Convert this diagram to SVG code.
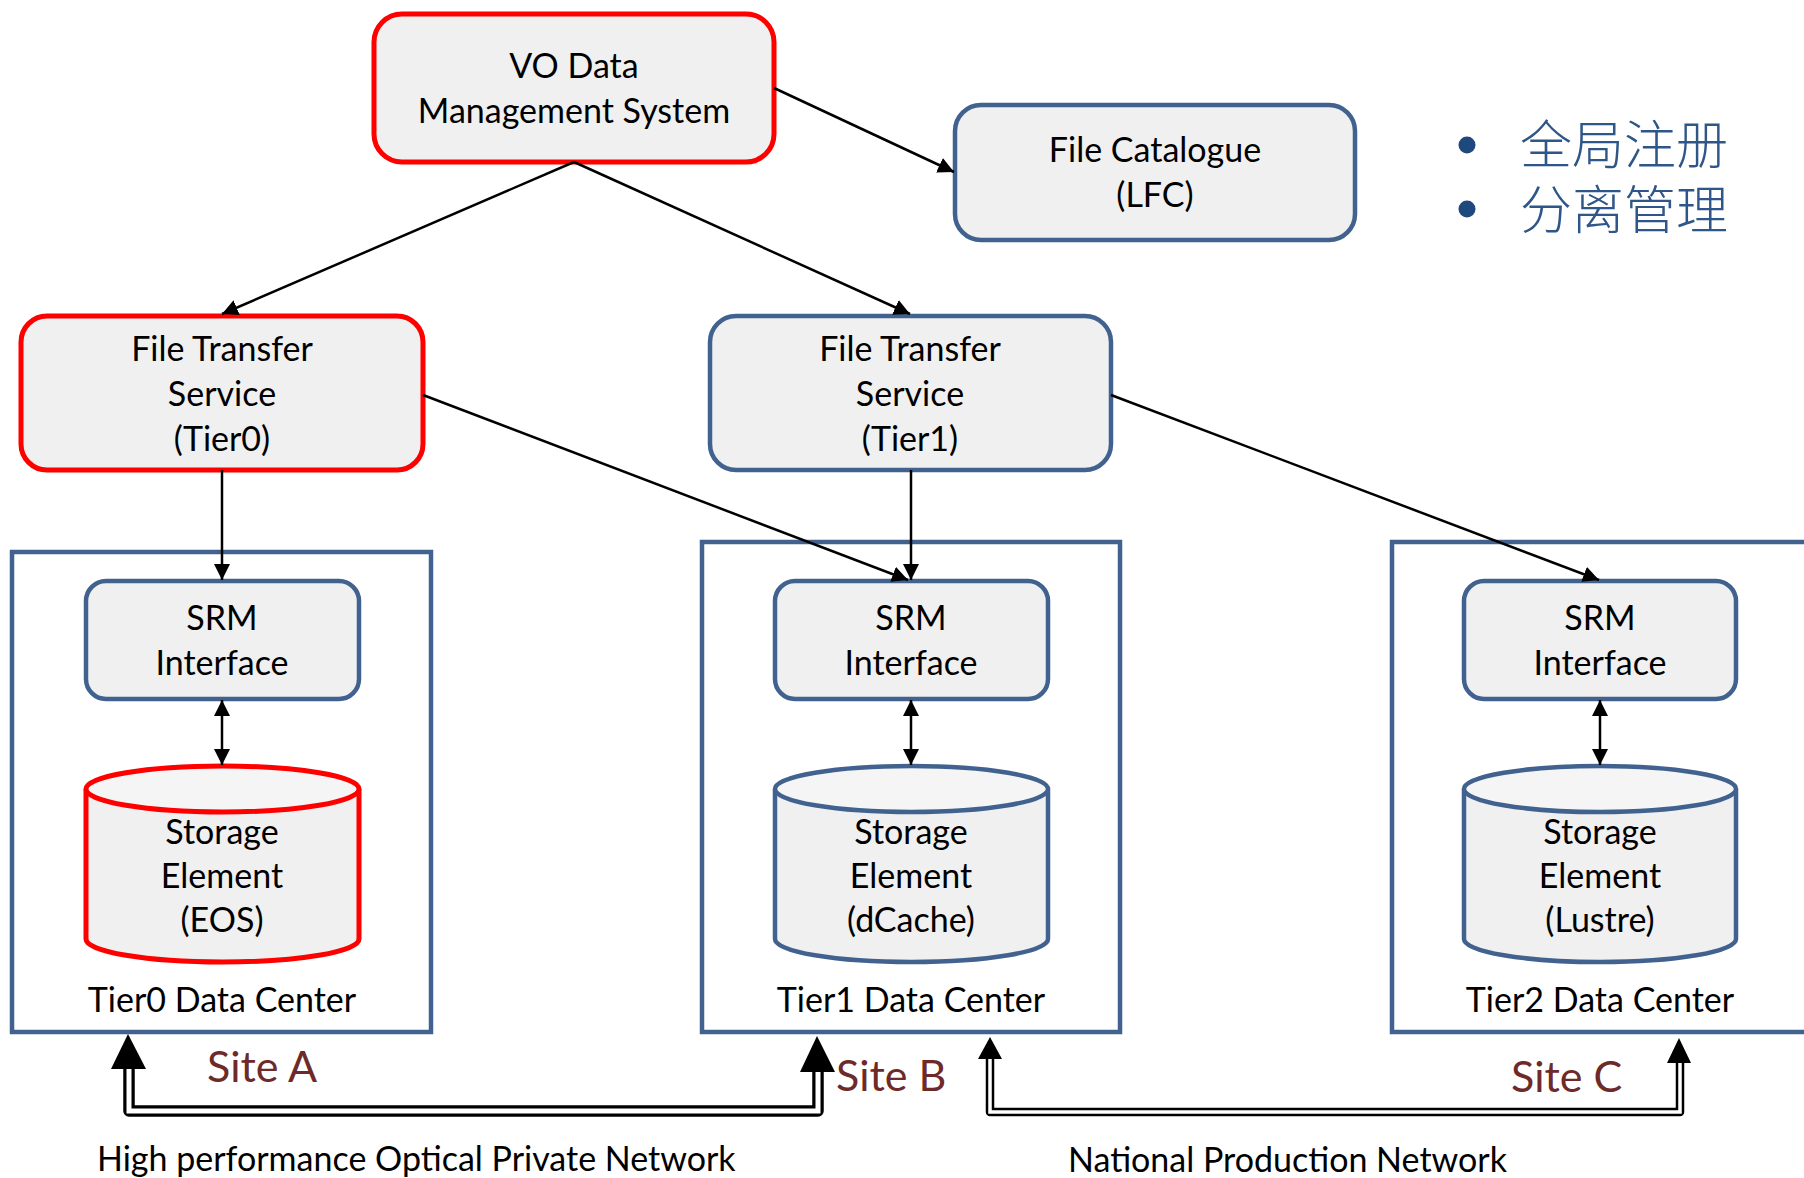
<svg xmlns="http://www.w3.org/2000/svg" width="1804" height="1178" viewBox="0 0 1804 1178">
<style>
.box{fill:#F0F0F0;stroke-width:4.5}
.red{stroke:#FF0000;stroke-width:5}
.blue{stroke:#41628F}
.dc{fill:none;stroke:#41628F;stroke-width:4.5}
.t{font-family:Lato,"Liberation Sans",sans-serif;font-size:34px;fill:#000;text-anchor:middle}
.site{font-family:Lato,"Liberation Sans",sans-serif;font-size:43px;fill:#6E2A28}
.net{font-family:Lato,"Liberation Sans",sans-serif;font-size:34px;fill:#000}
.cjk{font-family:"Noto Sans CJK SC",sans-serif;font-size:52px;font-weight:300;fill:#2F5689}
.conn{stroke:#000;stroke-width:2.5;fill:none}
</style>
<defs>
<marker id="ah" markerUnits="userSpaceOnUse" markerWidth="18" markerHeight="16" refX="16" refY="8" orient="auto-start-reverse" viewBox="0 0 18 16">
<path d="M0,0 L16,8 L0,16 Z" fill="#000"/>
</marker>
</defs>
<rect width="1804" height="1178" fill="#fff"/>

<g id="dc-tier0"><rect class="dc" x="12" y="552" width="419" height="480"/><text class="t" x="222" y="1012">Tier0 Data Center</text></g>
<g id="dc-tier1"><rect class="dc" x="702" y="542" width="418" height="490"/><text class="t" x="911" y="1012">Tier1 Data Center</text></g>
<g id="dc-tier2"><rect class="dc" x="1392" y="542" width="420" height="490"/><text class="t" x="1600" y="1012">Tier2 Data Center</text></g>

<g id="vo"><rect class="box red" x="374" y="14" width="400" height="148" rx="28"/><text class="t" x="574" y="78">VO Data</text><text class="t" x="574" y="123">Management System</text></g>
<g id="fc"><rect class="box blue" x="955" y="105" width="400" height="135" rx="26"/><text class="t" x="1155" y="162">File Catalogue</text><text class="t" x="1155" y="207">(LFC)</text></g>
<g id="fts0"><rect class="box red" x="21" y="316" width="402" height="154" rx="26"/><text class="t" x="222" y="361">File Transfer</text><text class="t" x="222" y="406">Service</text><text class="t" x="222" y="451">(Tier0)</text></g>
<g id="fts1"><rect class="box blue" x="710" y="316" width="401" height="154" rx="26"/><text class="t" x="910" y="361">File Transfer</text><text class="t" x="910" y="406">Service</text><text class="t" x="910" y="451">(Tier1)</text></g>

<g id="srm0"><rect class="box blue" x="86" y="581" width="273" height="118" rx="20"/><text class="t" x="222" y="630">SRM</text><text class="t" x="222" y="675">Interface</text></g>
<g id="srm1"><rect class="box blue" x="775" y="581" width="273" height="118" rx="20"/><text class="t" x="911" y="630">SRM</text><text class="t" x="911" y="675">Interface</text></g>
<g id="srm2"><rect class="box blue" x="1464" y="581" width="272" height="118" rx="20"/><text class="t" x="1600" y="630">SRM</text><text class="t" x="1600" y="675">Interface</text></g>

<g id="se0"><path class="box red" d="M86,789 L86,939 A136.5,23 0 0 0 359,939 L359,789"/><ellipse class="red" cx="222.5" cy="789" rx="136.5" ry="23" fill="#F5F5F5" stroke-width="5"/><text class="t" x="222" y="844">Storage</text><text class="t" x="222" y="888">Element</text><text class="t" x="222" y="932">(EOS)</text></g>
<g id="se1"><path class="box blue" d="M775,789 L775,939 A136.5,23 0 0 0 1048,939 L1048,789"/><ellipse class="blue" cx="911.5" cy="789" rx="136.5" ry="23" fill="#F5F5F5" stroke-width="4.5"/><text class="t" x="911" y="844">Storage</text><text class="t" x="911" y="888">Element</text><text class="t" x="911" y="932">(dCache)</text></g>
<g id="se2"><path class="box blue" d="M1464,789 L1464,939 A136,23 0 0 0 1736,939 L1736,789"/><ellipse class="blue" cx="1600" cy="789" rx="136" ry="23" fill="#F5F5F5" stroke-width="4.5"/><text class="t" x="1600" y="844">Storage</text><text class="t" x="1600" y="888">Element</text><text class="t" x="1600" y="932">(Lustre)</text></g>

<g id="bullets">
<circle cx="1467" cy="145" r="8.5" fill="#1F497D"/><text class="cjk" x="1520" y="164">全局注册</text>
<circle cx="1467" cy="209" r="8.5" fill="#1F497D"/><text class="cjk" x="1520" y="229">分离管理</text>
</g>

<g id="connectors">
<line class="conn" x1="774" y1="88" x2="954" y2="172" marker-end="url(#ah)"/>
<line class="conn" x1="574" y1="162" x2="222" y2="314" marker-end="url(#ah)"/>
<line class="conn" x1="574" y1="162" x2="910" y2="314" marker-end="url(#ah)"/>
<line class="conn" x1="423" y1="395" x2="908" y2="580" marker-end="url(#ah)"/>
<line class="conn" x1="1111" y1="395" x2="1599" y2="580" marker-end="url(#ah)"/>
<line class="conn" x1="222" y1="470" x2="222" y2="580" marker-end="url(#ah)"/>
<line class="conn" x1="911" y1="470" x2="911" y2="580" marker-end="url(#ah)"/>
<line class="conn" x1="222" y1="700" x2="222" y2="765" marker-start="url(#ah)" marker-end="url(#ah)"/>
<line class="conn" x1="911" y1="700" x2="911" y2="765" marker-start="url(#ah)" marker-end="url(#ah)"/>
<line class="conn" x1="1600" y1="700" x2="1600" y2="765" marker-start="url(#ah)" marker-end="url(#ah)"/>
<g id="net-optical">
<path d="M129,1068 L129,1111 L818,1111 L818,1071" fill="none" stroke="#000" stroke-width="11.5" stroke-linejoin="round"/>
<path d="M129,1066 L129,1111 L818,1111 L818,1069" fill="none" stroke="#fff" stroke-width="5"/>
<path d="M128,1034 L146,1069 L111,1069 Z" fill="#000"/>
<path d="M817,1036 L835,1072 L800,1072 Z" fill="#000"/>
</g>
<g id="net-national">
<path d="M990,1058 L990,1112 L1680,1112 L1680,1062" fill="none" stroke="#000" stroke-width="8.5" stroke-linejoin="round"/>
<path d="M990,1056 L990,1112 L1680,1112 L1680,1060" fill="none" stroke="#fff" stroke-width="3.5"/>
<path d="M990,1037 L1002,1059 L978,1059 Z" fill="#000"/>
<path d="M1679,1038 L1691,1063 L1667,1063 Z" fill="#000"/>
</g>
</g>

<g id="labels">
<text class="site" x="207" y="1082">Site A</text>
<text class="site" x="836" y="1091">Site B</text>
<text class="site" x="1511" y="1092">Site C</text>
<text class="net" x="97" y="1171">High performance Optical Private Network</text>
<text class="net" x="1068" y="1172">National Production Network</text>
</g>
</svg>
